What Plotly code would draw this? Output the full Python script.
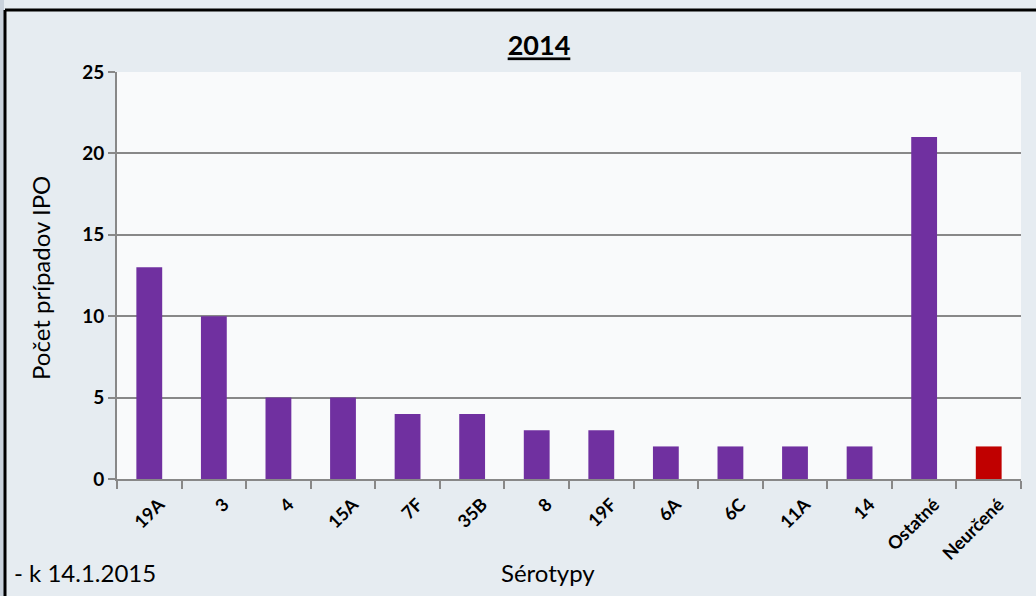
import plotly.graph_objects as go

categories = ["19A", "3", "4", "15A", "7F", "35B", "8", "19F", "6A", "6C", "11A", "14", "Ostatné", "Neurčené"]
values = [13, 10, 5, 5, 4, 4, 3, 3, 2, 2, 2, 2, 21, 2]
colors = ["#7030A0"] * 13 + ["#C00000"]

FONT = "Lato, 'Open Sans', sans-serif"

W, H = 1036, 596
L, R, T, B = 117, 15, 72, 117
PW, PH = W - L - R, H - T - B


def px(x):
    return (x - L) / PW


def py(y):
    return (H - B - y) / PH


fig = go.Figure(go.Bar(x=categories, y=values, marker=dict(color=colors, line=dict(width=0)), width=0.4))

fig.update_layout(
    width=W, height=H,
    margin=dict(l=L, r=R, t=T, b=B, autoexpand=False),
    paper_bgcolor="#e6ecf1",
    plot_bgcolor="#f9fafb",
    font=dict(family=FONT, color="#000000"),
    title=dict(text="<b><u>2014</u></b>", x=539 / W, xanchor="center", y=1 - 46 / H, yanchor="middle",
               font=dict(size=27, family=FONT, color="#000")),
    showlegend=False,
)

fig.update_xaxes(
    tickangle=-45, tickfont=dict(size=18, family=FONT, color="#000", weight="bold"),
    showline=True, linecolor="#888888", linewidth=2,
    ticks="outside", ticklen=8, tickcolor="#888888", tickwidth=2, tickson="boundaries",
    ticklabelshift=10, ticklabelstandoff=6,
    showgrid=False, automargin=False,
)
fig.update_yaxes(
    range=[0, 25], dtick=5, tickfont=dict(size=19, family=FONT, color="#000", weight="bold"),
    showline=True, linecolor="#888888", linewidth=2,
    ticks="outside", ticklen=7, tickcolor="#888888", tickwidth=2,
    showgrid=True, gridcolor="#888888", gridwidth=2,
    zeroline=False, automargin=False,
)

fig.add_annotation(text="Sérotypy", xref="paper", yref="paper", x=px(548), y=py(572),
                   xanchor="center", yanchor="middle", showarrow=False,
                   font=dict(size=24, family=FONT, color="#000"))
fig.add_annotation(text="Počet prípadov IPO", xref="paper", yref="paper", x=px(40), y=py(278),
                   xanchor="center", yanchor="middle", textangle=-90, showarrow=False,
                   font=dict(size=24, family=FONT, color="#000"))
fig.add_annotation(text="- k 14.1.2015", xref="paper", yref="paper",
                   x=px(12), y=py(572), xanchor="left", yanchor="middle",
                   showarrow=False, font=dict(size=24, family=FONT, color="#000"))

# black frame
fx0 = px(5)
fy1 = py(10)
fig.add_shape(type="line", xref="paper", yref="paper", x0=fx0, x1=1.1, y0=fy1, y1=fy1,
              line=dict(color="#000", width=3))
fig.add_shape(type="line", xref="paper", yref="paper", x0=fx0, x1=fx0, y0=fy1, y1=-0.4,
              line=dict(color="#000", width=3))
# darker strip at the far left edge
fig.add_shape(type="rect", xref="paper", yref="paper", x0=px(0), x1=px(4), y0=py(H), y1=py(0),
              fillcolor="#c9d2dc", line=dict(width=0), layer="below")

fig.write_html("out.html", config={"displayModeBar": False},
               post_script="document.body.style.margin='0';document.body.style.background='#e6ecf1';")
